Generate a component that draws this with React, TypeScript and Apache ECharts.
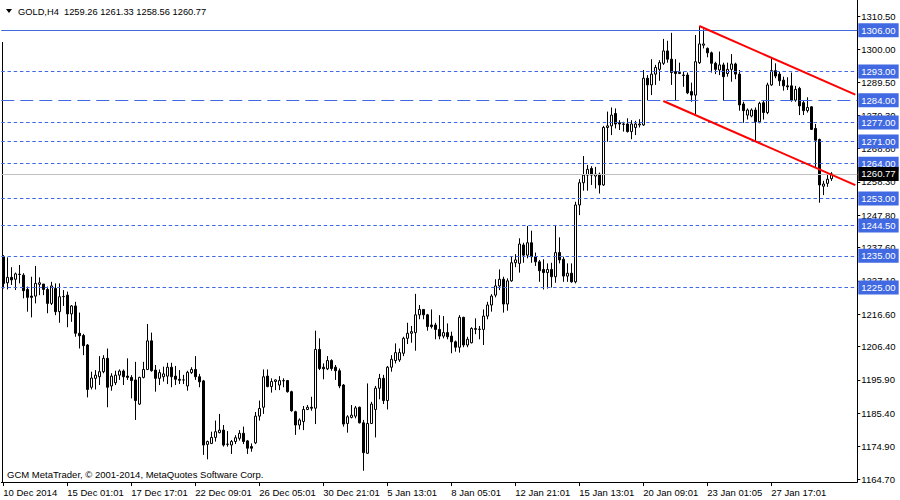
import React, { useEffect, useRef } from "react";
import * as echarts from "echarts";

const xTickLabels = ["10 Dec 2014","15 Dec 01:01","17 Dec 17:01","22 Dec 09:01","26 Dec 05:01","30 Dec 21:01","5 Jan 13:01","8 Jan 05:01","12 Jan 21:01","15 Jan 13:01","20 Jan 09:01","23 Jan 01:05","27 Jan 17:01"];
const yTickLabels = ["1164.70","1174.90","1185.40","1195.90","1206.40","1216.60","1227.10","1237.60","1247.80","1258.30","1268.80","1279.30","1289.50","1300.00","1310.50"];

const opens = [1234.7,1226.5,1228.2,1227.6,1229.2,1228.9,1224.4,1222.3,1222.3,1226.0,1226.1,1224.4,1220.0,1224.7,1217.4,1222.1,1222.6,1216.7,1219.2,1210.6,1209.9,1206.9,1193.6,1196.4,1196.9,1198.5,1202.7,1194.0,1195.0,1197.4,1198.7,1197.1,1196.7,1195.9,1188.3,1196.7,1199.2,1208.2,1199.0,1196.4,1196.9,1197.1,1199.9,1197.1,1196.1,1195.9,1194.0,1198.2,1199.2,1196.9,1195.6,1175.6,1175.9,1177.8,1179.3,1180.1,1175.6,1175.4,1176.5,1177.5,1179.1,1176.7,1174.9,1176.1,1184.5,1187.3,1197.1,1193.8,1195.4,1194.3,1195.6,1195.7,1192.2,1185.9,1181.7,1182.8,1186.6,1187.3,1187.0,1205.5,1199.9,1199.4,1202.0,1199.9,1198.8,1194.3,1182.2,1184.1,1184.5,1187.3,1182.4,1172.8,1182.2,1186.6,1193.3,1196.4,1189.4,1199.9,1202.0,1202.2,1204.3,1209.0,1210.6,1210.8,1216.4,1218.1,1216.4,1213.2,1213.2,1211.8,1209.7,1210.8,1209.7,1207.9,1206.2,1215.6,1206.9,1207.6,1211.8,1211.8,1211.8,1216.0,1219.5,1222.6,1225.5,1227.6,1219.8,1227.1,1232.8,1232.6,1238.4,1235.2,1239.1,1234.7,1233.1,1230.7,1229.7,1230.7,1228.4,1236.0,1233.9,1228.6,1229.5,1226.8,1251.0,1258.0,1260.4,1262.5,1260.1,1260.7,1257.3,1275.4,1275.9,1279.8,1276.9,1276.5,1276.5,1274.1,1275.4,1276.2,1276.2,1290.9,1288.8,1292.2,1293.7,1295.6,1299.5,1296.9,1293.0,1292.7,1291.9,1291.9,1286.7,1285.6,1295.8,1301.3,1300.3,1298.9,1295.6,1293.5,1295.1,1292.4,1293.7,1295.4,1292.2,1282.8,1279.3,1279.0,1280.9,1277.2,1283.2,1280.1,1288.8,1293.3,1292.2,1290.3,1288.5,1288.5,1284.0,1287.7,1283.2,1280.7,1281.9,1275.1,1271.6,1256.9,1257.8,1259.26];
const closes = [1226.3,1228.2,1227.4,1229.3,1229.1,1224.0,1221.9,1221.9,1226.3,1226.5,1224.4,1220.0,1225.5,1217.4,1222.1,1222.2,1216.7,1219.2,1210.6,1209.8,1206.7,1192.9,1196.5,1197.4,1198.5,1202.7,1193.6,1197.1,1197.4,1198.7,1196.9,1196.7,1195.7,1189.4,1196.7,1199.2,1208.2,1198.8,1196.4,1198.2,1197.8,1199.9,1196.9,1196.1,1195.8,1195.9,1198.3,1199.2,1196.9,1195.3,1175.4,1176.5,1177.8,1179.6,1180.1,1175.4,1175.7,1176.5,1177.7,1179.1,1176.5,1174.4,1174.4,1184.5,1186.9,1196.9,1193.8,1195.4,1195.9,1195.7,1195.7,1192.2,1186.2,1181.7,1183.3,1186.6,1187.3,1187.0,1205.5,1199.5,1199.4,1202.0,1199.5,1198.8,1194.0,1182.0,1184.3,1184.8,1187.1,1182.4,1173.0,1182.2,1188.3,1193.3,1196.4,1189.4,1199.9,1202.4,1204.5,1204.5,1209.0,1210.6,1211.1,1216.4,1218.1,1216.4,1212.7,1212.7,1211.8,1209.7,1210.8,1209.5,1207.9,1206.2,1215.6,1206.9,1208.7,1212.1,1212.1,1211.9,1216.0,1219.5,1222.3,1225.5,1227.6,1219.8,1227.1,1232.8,1233.7,1238.7,1235.2,1239.1,1234.7,1233.1,1230.3,1229.7,1230.7,1228.4,1236.0,1233.7,1228.6,1229.5,1226.8,1251.0,1258.0,1260.4,1262.2,1260.4,1260.7,1257.3,1275.4,1275.9,1279.3,1276.5,1276.5,1276.4,1274.1,1276.5,1276.5,1276.5,1290.9,1288.8,1292.2,1294.3,1295.8,1299.5,1296.9,1292.7,1292.4,1292.4,1291.8,1286.3,1285.6,1296.1,1301.7,1301.7,1298.9,1295.6,1293.7,1295.1,1291.4,1293.7,1295.4,1292.2,1282.5,1280.7,1280.9,1280.9,1277.2,1283.0,1280.1,1288.8,1293.3,1291.6,1290.1,1288.5,1288.2,1284.0,1287.4,1282.2,1280.7,1281.7,1274.8,1271.4,1257.3,1257.6,1259.1,1260.77];
const highs = [1235.2,1234.5,1231.4,1229.7,1232.1,1229.5,1225.3,1228.4,1231.8,1228.2,1226.1,1225.3,1226.8,1226.3,1226.3,1224.2,1223.7,1219.5,1220.5,1217.1,1210.4,1207.2,1198.5,1199.0,1203.4,1203.7,1205.8,1198.0,1198.8,1199.2,1199.2,1202.7,1197.4,1201.6,1196.9,1201.6,1213.5,1210.8,1200.6,1199.2,1200.1,1201.3,1201.3,1200.3,1199.0,1197.5,1198.8,1199.9,1203.4,1197.8,1195.9,1176.8,1179.6,1183.1,1185.2,1181.7,1179.8,1177.0,1178.5,1180.1,1181.2,1177.0,1175.9,1185.8,1189.4,1199.2,1199.2,1196.4,1196.1,1197.1,1196.4,1195.9,1192.5,1186.2,1183.8,1187.7,1188.0,1190.6,1211.4,1209.0,1201.1,1203.4,1202.4,1200.6,1199.5,1194.6,1184.8,1188.0,1187.7,1187.5,1183.3,1194.8,1189.0,1194.0,1197.8,1197.5,1200.3,1203.7,1207.4,1205.8,1209.5,1213.9,1212.9,1223.0,1219.5,1218.1,1216.7,1218.1,1213.9,1216.3,1216.0,1213.7,1211.1,1208.3,1216.3,1215.8,1209.5,1212.5,1215.3,1212.9,1218.1,1220.5,1222.9,1227.6,1230.7,1228.4,1227.9,1234.9,1235.5,1240.5,1239.1,1244.4,1242.9,1236.0,1233.7,1233.9,1232.6,1232.8,1244.4,1240.8,1234.7,1232.6,1232.6,1252.0,1259.1,1266.4,1263.6,1263.2,1263.0,1261.2,1275.9,1280.4,1281.7,1281.4,1277.7,1277.2,1278.3,1277.7,1277.5,1278.0,1293.5,1291.9,1296.9,1295.1,1296.6,1303.3,1302.7,1305.2,1296.9,1295.8,1292.9,1292.7,1289.5,1304.5,1307.3,1306.3,1300.6,1299.3,1296.1,1299.3,1295.8,1295.8,1298.5,1295.8,1293.5,1283.5,1281.4,1281.4,1281.7,1283.5,1284.0,1289.5,1297.2,1295.6,1292.9,1291.4,1291.2,1292.7,1288.5,1288.2,1284.0,1284.9,1282.1,1276.5,1271.9,1258.6,1260.7,1261.33];
const lows = [1224.7,1224.4,1225.8,1224.2,1226.3,1221.6,1217.4,1215.6,1220.0,1222.6,1222.6,1216.9,1219.5,1216.3,1213.9,1219.2,1212.5,1214.2,1209.5,1205.8,1203.7,1190.4,1192.9,1192.9,1194.3,1198.0,1187.3,1192.5,1194.3,1195.9,1194.3,1195.9,1190.1,1183.3,1188.0,1196.4,1199.0,1198.5,1192.2,1194.3,1195.4,1194.6,1193.6,1194.3,1194.6,1194.6,1192.5,1197.8,1195.9,1193.6,1172.3,1170.9,1175.7,1176.5,1179.1,1174.9,1174.9,1172.6,1175.7,1176.8,1175.7,1172.6,1173.3,1175.7,1183.1,1185.2,1193.6,1191.9,1192.7,1192.7,1193.6,1191.9,1185.9,1178.6,1180.3,1180.1,1186.4,1186.2,1182.0,1199.0,1196.1,1199.0,1198.8,1195.9,1193.3,1181.2,1179.3,1183.8,1183.8,1182.2,1167.3,1172.6,1182.0,1177.8,1189.8,1188.3,1186.6,1198.5,1201.1,1201.6,1203.4,1207.2,1207.6,1205.1,1215.0,1215.0,1211.4,1212.1,1208.7,1208.7,1209.0,1208.7,1204.3,1204.8,1204.5,1206.2,1206.2,1207.4,1210.3,1208.7,1206.9,1215.0,1217.4,1221.9,1224.2,1217.1,1217.7,1226.8,1231.4,1229.7,1232.8,1234.2,1232.8,1231.8,1226.8,1224.4,1224.7,1225.0,1226.5,1232.6,1226.8,1226.8,1226.5,1226.3,1247.8,1255.5,1255.5,1257.3,1256.2,1254.6,1257.0,1270.9,1273.0,1275.1,1274.6,1274.1,1273.8,1271.7,1273.0,1275.4,1275.9,1284.0,1285.6,1288.8,1290.1,1295.1,1295.8,1288.8,1283.8,1292.2,1288.2,1285.9,1283.5,1279.6,1295.4,1300.3,1297.5,1292.7,1292.2,1291.9,1283.8,1291.4,1289.8,1290.6,1280.7,1276.9,1277.9,1278.6,1271.2,1276.7,1277.9,1279.6,1288.5,1290.9,1288.5,1287.0,1287.2,1283.5,1283.5,1279.3,1279.3,1280.1,1274.6,1262.8,1251.7,1254.1,1256.7,1258.56];

const levelValues = [1306.0, 1293.0, 1284.0, 1277.0, 1271.0, 1264.0, 1253.0, 1244.5, 1235.0, 1225.0];
const solidLevel = 1306.0;
const longDashLevel = 1284.0;
const bidPrice = 1260.77;
const upperTrend = [[174, 1307.35], [213, 1285.72]];
const lowerTrend = [[165, 1283.73], [213, 1257.25]];

const headerText = "GOLD,H4  1259.26 1261.33 1258.56 1260.77";
const copyrightText = "GCM MetaTrader, \u00A9 2001-2014, MetaQuotes Software Corp.";

const SLOT_COUNT = 214;
const TICK_EVERY = 16;
const PRICE_MIN = 1163.76;
const PRICE_MAX = 1315.54;
const FONT = "'Liberation Sans', Arial, sans-serif";
const BLUE = "#4169E1";

export default function App() {
  const ref = useRef<HTMLDivElement>(null);
  useEffect(() => {
    const chart = echarts.init(ref.current!, null, { renderer: "svg" });
    const categories = Array.from({ length: SLOT_COUNT }, (_, i) => String(i));
    const candles = opens.map((o, i) => [o, closes[i], lows[i], highs[i]]);
    const yTickValues = yTickLabels.map((s) => parseFloat(s));
    const showTick = (i: number) => i % TICK_EVERY === 0 && i / TICK_EVERY < xTickLabels.length;

    const boxLabel = (text: string, bg: string) => ({
      show: true,
      position: "end",
      formatter: text,
      backgroundColor: bg,
      color: "#fff",
      padding: [2, 3, 2, 3],
      distance: 1,
      fontSize: 9.5,
      fontFamily: FONT,
    });

    const levelLines = levelValues.map((v) => ({
      yAxis: v,
      lineStyle: {
        color: BLUE,
        width: 1,
        type: v === solidLevel ? "solid" : v === longDashLevel ? [13, 6] : [3.5, 2.7],
      },
      label: boxLabel(v.toFixed(2), BLUE),
    }));
    const bidLine = {
      yAxis: bidPrice,
      lineStyle: { color: "#C0C0C0", width: 1, type: "solid" },
      label: boxLabel(bidPrice.toFixed(2), "#000"),
    };
    const trend = (pts: number[][]) => [
      { coord: pts[0], lineStyle: { color: "#FF0000", width: 2, type: "solid" }, label: { show: false } },
      { coord: pts[1] },
    ];

    chart.setOption({
      animation: false,
      backgroundColor: "#fff",
      grid: { left: 1.3, right: 42.7, top: 0, bottom: 18, containLabel: false, outerBoundsMode: "none" },
      xAxis: {
        type: "category",
        data: categories,
        boundaryGap: true,
        axisLine: { show: true, lineStyle: { color: "#000", width: 1 } },
        axisTick: { show: true, alignWithLabel: true, length: 4, interval: (i: number) => showTick(i), lineStyle: { color: "#000" } },
        axisLabel: {
          interval: (i: number) => showTick(i),
          formatter: (_v: string, i: number) => (showTick(i) ? xTickLabels[i / TICK_EVERY] : ""),
          align: "left",
          margin: 5,
          fontSize: 9.5,
          fontFamily: FONT,
          color: "#000",
        },
        splitLine: { show: false },
      },
      yAxis: {
        type: "value",
        position: "right",
        min: PRICE_MIN,
        max: PRICE_MAX,
        axisLine: { show: true, lineStyle: { color: "#000", width: 1 } },
        axisTick: { show: true, length: 3, customValues: yTickValues, lineStyle: { color: "#000" } },
        axisLabel: {
          show: true,
          customValues: yTickValues,
          formatter: (v: number) => {
            const k = yTickValues.findIndex((t) => Math.abs(t - v) < 1e-6);
            return k >= 0 ? yTickLabels[k] : "";
          },
          margin: 4,
          fontSize: 9.5,
          fontFamily: FONT,
          color: "#000",
          showMinLabel: true,
          showMaxLabel: true,
        },
        splitLine: { show: false },
      },
      series: [
        {
          type: "candlestick",
          data: candles,
          barWidth: 2,
          itemStyle: { color: "#fff", color0: "#000", borderColor: "#000", borderColor0: "#000", borderWidth: 1 },
          markLine: {
            symbol: ["none", "none"],
            silent: true,
            animation: false,
            data: [...levelLines, bidLine, trend(upperTrend), trend(lowerTrend)],
          },
        },
      ],
      graphic: [
        { type: "line", shape: { x1: 2.5, y1: 42, x2: 2.5, y2: 482 }, style: { stroke: "#000", lineWidth: 1 } },
        { type: "polygon", shape: { points: [[6, 9], [12, 9], [9, 13]] }, style: { fill: "#000" } },
        { type: "text", x: 18, y: 12, style: { text: headerText, fill: "#000", fontSize: 9.3, fontFamily: FONT, verticalAlign: "middle" } },
        { type: "text", x: 7, y: 474, style: { text: copyrightText, fill: "#000", fontSize: 9.5, fontFamily: FONT, verticalAlign: "middle" } },
      ],
    });
    return () => chart.dispose();
  }, []);
  return <div ref={ref} style={{ position: "absolute", left: 0, top: 0, width: 900, height: 500, background: "#fff" }} />;
}
